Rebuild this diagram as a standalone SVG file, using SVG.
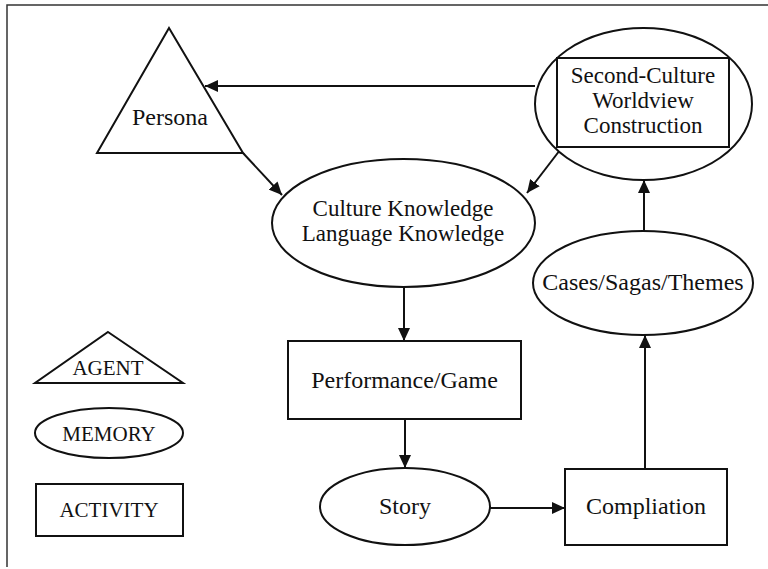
<svg xmlns="http://www.w3.org/2000/svg" width="768" height="569" viewBox="0 0 768 569">
  <defs>
    <style>
      .shape { fill: #ffffff; stroke: #111111; stroke-width: 2; }
      .edge { fill: none; stroke: #111111; stroke-width: 2; marker-end: url(#arrow); }
      .lbl { font-family: "Liberation Serif", "Times New Roman", serif; font-size: 24px; fill: #111111; text-anchor: middle; }
      .lbl2 { font-family: "Liberation Serif", "Times New Roman", serif; font-size: 23px; fill: #111111; text-anchor: middle; }
      .leg { font-family: "Liberation Serif", "Times New Roman", serif; font-size: 21px; fill: #111111; text-anchor: middle; }
    </style>
    <marker id="arrow" markerUnits="userSpaceOnUse" markerWidth="14" markerHeight="12" refX="13" refY="6" orient="auto">
      <path d="M0,0 L13,6 L0,12 z" fill="#111111"/>
    </marker>
  </defs>
  <rect x="0" y="0" width="768" height="569" fill="#ffffff"/>
  <path d="M7,567 V5 H768" fill="none" stroke="#333333" stroke-width="1.5"/>

  <g id="connectors">
    <line class="edge" x1="535" y1="86" x2="205" y2="86"/>
    <line class="edge" x1="243" y1="153" x2="282" y2="195"/>
    <line class="edge" x1="560" y1="150" x2="527" y2="193"/>
    <line class="edge" x1="404" y1="287" x2="404" y2="341"/>
    <line class="edge" x1="405" y1="419" x2="405" y2="468"/>
    <line class="edge" x1="490" y1="508" x2="565" y2="508"/>
    <line class="edge" x1="645" y1="469" x2="645" y2="335"/>
    <line class="edge" x1="644" y1="231" x2="644" y2="180"/>
  </g>

  <g id="persona">
    <polygon class="shape" points="169,28 243,153 97,153"/>
    <text class="lbl" x="170" y="125">Persona</text>
  </g>

  <g id="second-culture">
    <ellipse class="shape" cx="643.5" cy="104" rx="108.5" ry="76"/>
    <rect class="shape" x="557" y="58" width="172" height="89"/>
    <text class="lbl2" x="643" y="83">Second-Culture</text>
    <text class="lbl2" x="643" y="108">Worldview</text>
    <text class="lbl2" x="643" y="133">Construction</text>
  </g>

  <g id="knowledge">
    <ellipse class="shape" cx="403.5" cy="223" rx="131.5" ry="64"/>
    <text class="lbl2" x="403" y="216">Culture Knowledge</text>
    <text class="lbl2" x="403" y="241">Language Knowledge</text>
  </g>

  <g id="performance">
    <rect class="shape" x="288" y="341" width="233" height="78"/>
    <text class="lbl" x="404.5" y="388">Performance/Game</text>
  </g>

  <g id="story">
    <ellipse class="shape" cx="405" cy="506.5" rx="85" ry="38.5"/>
    <text class="lbl" x="405" y="514">Story</text>
  </g>

  <g id="compliation">
    <rect class="shape" x="565" y="469" width="162" height="76"/>
    <text class="lbl" x="646" y="514">Compliation</text>
  </g>

  <g id="cases">
    <ellipse class="shape" cx="643" cy="283" rx="110" ry="52"/>
    <text class="lbl" x="643" y="290">Cases/Sagas/Themes</text>
  </g>

  <g id="legend-agent">
    <polygon class="shape" points="108,332 183,383 35,383"/>
    <text class="leg" x="108" y="375">AGENT</text>
  </g>
  <g id="legend-memory">
    <ellipse class="shape" cx="109" cy="433" rx="74" ry="25"/>
    <text class="leg" x="109" y="441">MEMORY</text>
  </g>
  <g id="legend-activity">
    <rect class="shape" x="36" y="484" width="147" height="52"/>
    <text class="leg" x="109" y="517">ACTIVITY</text>
  </g>
</svg>
